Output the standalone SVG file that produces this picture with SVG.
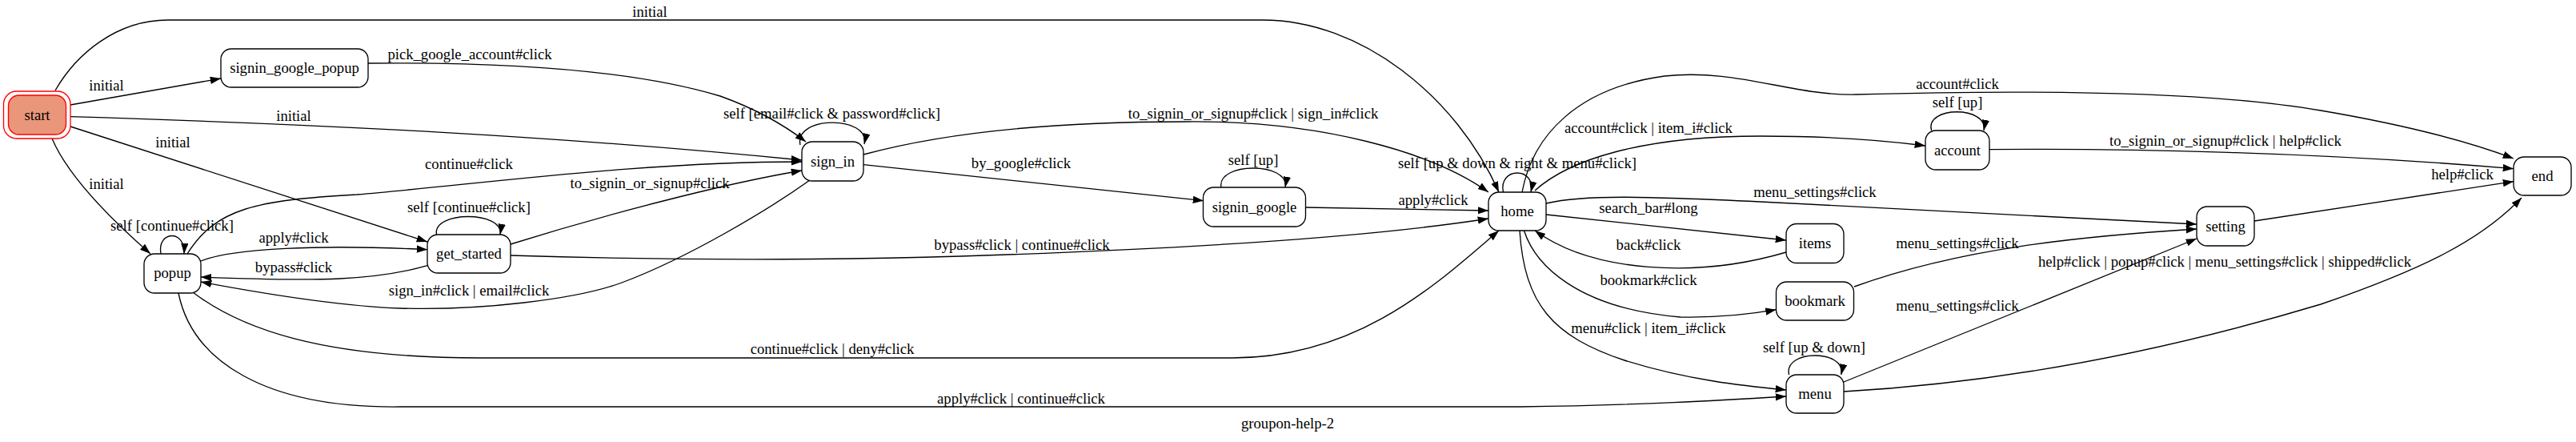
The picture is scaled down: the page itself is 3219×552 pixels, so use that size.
<svg xmlns="http://www.w3.org/2000/svg" width="3219" height="552" viewBox="0 0 3219 552">
<style>
text{font-family:"Liberation Serif","Times New Roman",serif;font-size:18.67px;text-anchor:middle;fill:#000}
.node rect{fill:none;stroke:#000;stroke-width:1.33}
.edge path{fill:none;stroke:#000;stroke-width:1.33;marker-end:url(#arr)}
</style>
<defs>
<marker id="arr" markerWidth="14" markerHeight="10" refX="13.3" refY="4.67" orient="auto" markerUnits="userSpaceOnUse"><path d="M0,0 L13.3,4.67 L0,9.33 z" fill="#000"/></marker>
</defs>
<rect width="3219" height="552" fill="#fff"/>
<g id="edges">
<g class="edge"><path d="M69,113 C95,68 145,25 210,25 L1578,25 C1700,25 1820,120 1873,240"/><text x="812" y="21">initial</text></g>
<g class="edge"><path d="M88,131 L276,98"/><text x="133" y="113">initial</text></g>
<g class="edge"><path d="M88,145.7 C400,155 700,170 1002,200"/><text x="367" y="151">initial</text></g>
<g class="edge"><path d="M88,158 L534,302"/><text x="216" y="184">initial</text></g>
<g class="edge"><path d="M65,173 C85,220 140,275 188,317"/><text x="133" y="236">initial</text></g>
<g class="edge"><path d="M201,317 C196,288 232,286 230,317"/><text x="215" y="288">self [continue#click]</text></g>
<g class="edge"><path d="M234,317 C270,260 320,250 446,243 C600,230 800,202 1002,202"/><text x="586" y="211">continue#click</text></g>
<g class="edge"><path d="M545.5,293 C540,263 630,263 625,293"/><text x="586" y="265">self [continue#click]</text></g>
<g class="edge"><path d="M251,326 C290,310 400,305 534,311.7"/><text x="367" y="303">apply#click</text></g>
<g class="edge"><path d="M534,331.7 C470,350 400,352 251,346"/><text x="367" y="339.5">bypass#click</text></g>
<g class="edge"><path d="M1012,225 C960,262 860,322 777,353 C720,374 600,388 500,385 C420,382 320,365 251,352"/><text x="586" y="368.5">sign_in#click | email#click</text></g>
<g class="edge"><path d="M638,305 C750,270 900,230 1002,213"/><text x="812" y="234.5">to_signin_or_signup#click</text></g>
<g class="edge"><path d="M638,319 C800,324 1000,326 1200,320 C1450,312 1700,298 1860,273"/><text x="1277" y="311.5">bypass#click | continue#click</text></g>
<g class="edge"><path d="M460,79 C650,77 800,90 900,120 C950,138 985,160 1007,177"/><text x="587" y="73.5">pick_google_account#click</text></g>
<g class="edge"><path d="M1000,181 C992,144 1088,144 1080,180"/><text x="1039.5" y="147.5">self [email#click &amp; password#click]</text></g>
<g class="edge"><path d="M1079,193 C1200,160 1350,152 1480,152 C1650,150 1790,190 1860,240"/><text x="1566" y="148">to_signin_or_signup#click | sign_in#click</text></g>
<g class="edge"><path d="M1079,205.7 L1504,250.7"/><text x="1276" y="209.5">by_google#click</text></g>
<g class="edge"><path d="M1526,234 C1520,202 1612,202 1606,234"/><text x="1566" y="206">self [up]</text></g>
<g class="edge"><path d="M1631,259 L1860,263"/><text x="1791" y="256">apply#click</text></g>
<g class="edge"><path d="M241,365 C300,410 400,447 600,447 L1540,447 C1700,447 1800,350 1873,288"/><text x="1040" y="442">continue#click | deny#click</text></g>
<g class="edge"><path d="M223,366 C240,450 330,510 500,508 L1900,508 C2050,506 2150,500 2232,495"/><text x="1276" y="503.5">apply#click | continue#click</text></g>
<g class="edge"><path d="M1878.5,240 C1872,208 1920,208 1913,240"/><text x="1896" y="209.5">self [up &amp; down &amp; right &amp; menu#click]</text></g>
<g class="edge"><path d="M1902,240 C1915,170 1970,110 2080,95 C2170,85 2240,120 2320,118 C2500,113 2750,112 2900,138 C3000,155 3080,175 3141,198"/><text x="2446" y="111">account#click</text></g>
<g class="edge"><path d="M1918,238 C1960,200 2050,170 2200,170 C2300,170 2360,176 2406,182"/><text x="2060" y="166">account#click | item_i#click</text></g>
<g class="edge"><path d="M2413.6,163 C2405,132 2485,132 2479,163"/><text x="2446" y="134">self [up]</text></g>
<g class="edge"><path d="M2486,186.7 C2650,185 2900,190 3141,210.7"/><text x="2781" y="181.5">to_signin_or_signup#click | help#click</text></g>
<g class="edge"><path d="M1932,268 L2232,300"/><text x="2060" y="265.5">search_bar#long</text></g>
<g class="edge"><path d="M2232,315 C2120,348 1990,340 1918,288"/><text x="2060" y="311.5">back#click</text></g>
<g class="edge"><path d="M1932,254 C1980,243 2050,245 2200,252 L2745,280"/><text x="2268" y="246">menu_settings#click</text></g>
<g class="edge"><path d="M1904.5,288 C1918,330 1970,385 2100,396 C2150,397 2190,392 2219.5,386.7"/><text x="2060" y="355.5">bookmark#click</text></g>
<g class="edge"><path d="M1899,288 C1905,380 1940,420 2030,450 C2110,475 2180,482 2232,487"/><text x="2060" y="416">menu#click | item_i#click</text></g>
<g class="edge"><path d="M2235.6,468 C2228,436 2308,436 2300.7,468"/><text x="2267" y="439.5">self [up &amp; down]</text></g>
<g class="edge"><path d="M2317,358 C2450,310 2600,295 2745,286"/><text x="2446" y="309.5">menu_settings#click</text></g>
<g class="edge"><path d="M2304,477 L2745,298"/><text x="2446" y="388">menu_settings#click</text></g>
<g class="edge"><path d="M2304,489 C2500,478 2700,440 2900,380 C3030,335 3100,300 3151,247"/><text x="2780" y="333">help#click | popup#click | menu_settings#click | shipped#click</text></g>
<g class="edge"><path d="M2817,276 L3141,226.7"/><text x="3077" y="224">help#click</text></g>
</g>
<g id="node-start" class="node"><rect x="4.5" y="114" width="83.5" height="59" rx="16" style="stroke:#ff0000"/><rect x="10.5" y="119" width="72" height="49" rx="13" style="fill:#e9967a;stroke:#ff0000"/><text x="46.5" y="150">start</text></g>
<g id="node-signin_google_popup" class="node"><rect x="276" y="61" width="184" height="48" rx="13"/><text x="368" y="91">signin_google_popup</text></g>
<g id="node-popup" class="node"><rect x="180" y="317" width="71" height="49" rx="13"/><text x="215.5" y="347">popup</text></g>
<g id="node-get_started" class="node"><rect x="534" y="293" width="104" height="48" rx="13"/><text x="586" y="323">get_started</text></g>
<g id="node-sign_in" class="node"><rect x="1002" y="177" width="77" height="49" rx="13"/><text x="1040.5" y="207.5">sign_in</text></g>
<g id="node-signin_google" class="node"><rect x="1503.5" y="234" width="128" height="49" rx="13"/><text x="1567.5" y="264.5">signin_google</text></g>
<g id="node-home" class="node"><rect x="1860" y="240" width="72" height="48" rx="13"/><text x="1896" y="270">home</text></g>
<g id="node-account" class="node"><rect x="2406" y="163" width="80" height="49" rx="13"/><text x="2446" y="193.5">account</text></g>
<g id="node-items" class="node"><rect x="2232" y="279.5" width="72" height="49" rx="13"/><text x="2268" y="310">items</text></g>
<g id="node-bookmark" class="node"><rect x="2219.5" y="352" width="97" height="48" rx="13"/><text x="2268" y="382">bookmark</text></g>
<g id="node-menu" class="node"><rect x="2232" y="468" width="72" height="48" rx="13"/><text x="2268" y="498">menu</text></g>
<g id="node-setting" class="node"><rect x="2745" y="258" width="72" height="49" rx="13"/><text x="2781" y="288.5">setting</text></g>
<g id="node-end" class="node"><rect x="3141" y="196" width="72" height="48" rx="13"/><text x="3177" y="226">end</text></g>
<text id="title" x="1609" y="535">groupon-help-2</text>
</svg>
